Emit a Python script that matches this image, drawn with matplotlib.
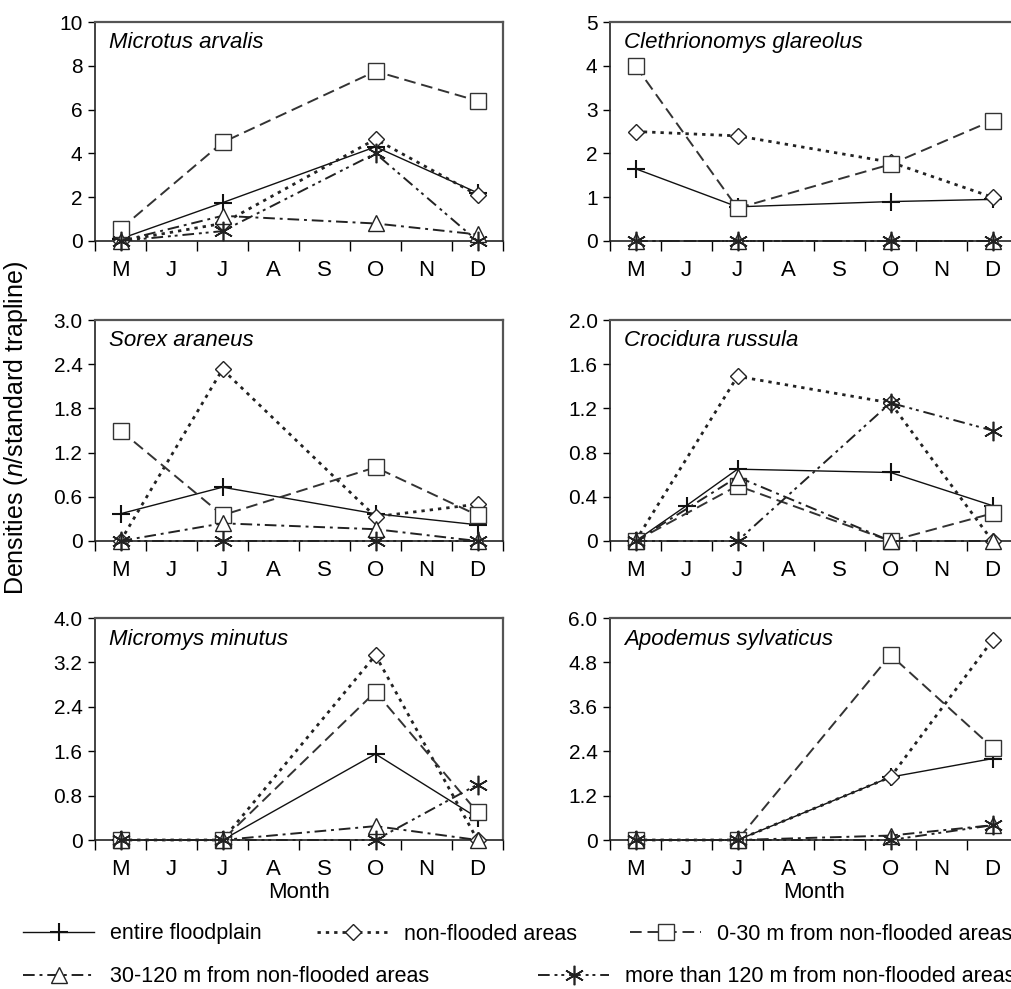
import numpy as np
import matplotlib
matplotlib.use('Agg')
import matplotlib.pyplot as plt
from matplotlib.lines import Line2D
from matplotlib.ticker import FixedLocator

plt.rcParams['font.family'] = ['Liberation Sans', 'DejaVu Sans']
plt.rcParams['mathtext.fontset'] = 'custom'
plt.rcParams['mathtext.it'] = 'Liberation Sans:italic'
plt.rcParams['mathtext.rm'] = 'Liberation Sans'

# month axis, samples taken in May, July, October, December
months = ['M', 'J', 'J', 'A', 'S', 'O', 'N', 'D']
sample_idx = [0, 2, 5, 7]

series_names = ['entire floodplain', 'non-flooded areas', '0-30 m from non-flooded areas',
                '30-120 m from non-flooded areas', 'more than 120 m from non-flooded areas']

# values per series, order as series_names
microtus = [[0.1, 1.75, 4.3, 2.2],
            [0.0, 0.8, 4.65, 2.1],
            [0.55, 4.5, 7.75, 6.4],
            [0.0, 1.15, 0.8, 0.3],
            [0.0, 0.45, 4.0, 0.0]]
clethrionomys = [[1.65, 0.78, 0.9, 0.95],
                 [2.5, 2.4, 1.8, 1.0],
                 [4.0, 0.75, 1.75, 2.75],
                 [0.0, 0.0, 0.0, 0.0],
                 [0.0, 0.0, 0.0, 0.0]]
sorex = [[0.37, 0.73, 0.37, 0.22],
         [0.0, 2.33, 0.33, 0.5],
         [1.5, 0.35, 1.0, 0.35],
         [0.0, 0.24, 0.16, 0.0],
         [0.0, 0.0, 0.0, 0.0]]
crocidura = [[0.0, 0.32, 0.65, 0.62, 0.32],
             [0.0, 1.49, 1.25, 0.0],
             [0.0, 0.5, 0.0, 0.25],
             [0.0, 0.58, 0.0, 0.0],
             [0.0, 0.0, 1.25, 1.0]]
crocidura_entire_idx = [0, 1, 2, 5, 7]
micromys = [[0.0, 0.0, 1.55, 0.4],
            [0.0, 0.0, 3.33, 0.0],
            [0.0, 0.0, 2.67, 0.5],
            [0.0, 0.0, 0.25, 0.0],
            [0.0, 0.0, 0.0, 1.0]]
apodemus = [[0.0, 0.0, 1.7, 2.2],
            [0.0, 0.0, 1.7, 5.4],
            [0.0, 0.0, 5.0, 2.5],
            [0.0, 0.0, 0.12, 0.4],
            [0.0, 0.0, 0.0, 0.4]]

panels = [('Microtus arvalis', microtus, [0, 2, 4, 6, 8, 10], ['0', '2', '4', '6', '8', '10']),
          ('Clethrionomys glareolus', clethrionomys, [0, 1, 2, 3, 4, 5], ['0', '1', '2', '3', '4', '5']),
          ('Sorex araneus', sorex, [0, 0.6, 1.2, 1.8, 2.4, 3.0], ['0', '0.6', '1.2', '1.8', '2.4', '3.0']),
          ('Crocidura russula', crocidura, [0, 0.4, 0.8, 1.2, 1.6, 2.0], ['0', '0.4', '0.8', '1.2', '1.6', '2.0']),
          ('Micromys minutus', micromys, [0, 0.8, 1.6, 2.4, 3.2, 4.0], ['0', '0.8', '1.6', '2.4', '3.2', '4.0']),
          ('Apodemus sylvaticus', apodemus, [0, 1.2, 2.4, 3.6, 4.8, 6.0], ['0', '1.2', '2.4', '3.6', '4.8', '6.0'])]

styles = [dict(ls='-', lw=1.0, color='#111111', marker='+', ms=13, mew=1.5),
          dict(ls=(0, (1.2, 1.8)), lw=2.0, color='#222222', marker='D', ms=8, mew=1.0, mfc='white'),
          dict(ls=(0, (6, 3)), lw=1.4, color='#333333', marker='s', ms=12, mew=1.0, mfc='white'),
          dict(ls=(0, (6, 2.5, 1.5, 2.5)), lw=1.4, color='#222222', marker='^', ms=12, mew=1.0, mfc='white'),
          dict(ls=(0, (6, 2.5, 1.5, 2, 1.5, 2.5)), lw=1.4, color='#222222', marker=(6, 2, 0), ms=14, mew=1.2)]

fig = plt.figure(figsize=(10.11, 9.89), dpi=100)
W, H = 1011, 989
lefts = [95, 610]
tops = [22, 320, 618]
bottoms = [241, 541, 840]
aw = 408

for i, (name, data, yt, ytl) in enumerate(panels):
    r, c = divmod(i, 2)
    ax = fig.add_axes([lefts[c] / W, 1 - bottoms[r] / H, aw / W, (bottoms[r] - tops[r]) / H])
    for j, vals in enumerate(data):
        xs = crocidura_entire_idx if len(vals) == 5 else sample_idx
        ax.plot(xs, vals, clip_on=False, zorder=3 + j * 0.1, **styles[j])
    ax.set_xlim(-0.5, 7.5)
    ax.set_ylim(0, yt[-1])
    ax.set_yticks(yt)
    ax.set_yticklabels(ytl)
    ax.set_xticks(range(8))
    ax.set_xticklabels(months)
    ax.xaxis.set_minor_locator(FixedLocator(np.arange(-0.5, 8, 1)))
    ax.tick_params(axis='x', which='major', length=0, pad=14, labelsize=16)
    ax.tick_params(axis='x', which='minor', length=7, width=1, direction='out')
    ax.tick_params(axis='y', length=5, width=1, direction='out', labelsize=15, pad=4)
    for s in ['left', 'bottom']:
        ax.spines[s].set_color('#222222')
        ax.spines[s].set_linewidth(1.2)
    for s in ['top', 'right']:
        ax.spines[s].set_color('#555555')
        ax.spines[s].set_linewidth(1.6)
    ax.text(0.035, 0.905, name, transform=ax.transAxes, style='italic',
            fontsize=16, ha='left', va='center')
    if r == 2:
        ax.set_xlabel('Month', fontsize=16, labelpad=1)

fig.text(16 / W, 1 - 428 / H, 'Densities ($\\it{n}$/standard trapline)', rotation=90,
         ha='center', va='center', fontsize=18)

# legend, one entry at a time to keep the two-row layout
leg_pos = [(23, 934), (317, 934), (630, 934), (23, 977), (538, 977)]
for j, (x, y) in enumerate(leg_pos):
    h = Line2D([], [], **styles[j])
    fig.legend([h], [series_names[j]], loc='center left', bbox_to_anchor=(x / W, 1 - y / H),
               frameon=False, borderpad=0, borderaxespad=0, handlelength=3.3,
               handletextpad=0.75, fontsize=15.5)

fig.savefig('out.png', dpi=100)
